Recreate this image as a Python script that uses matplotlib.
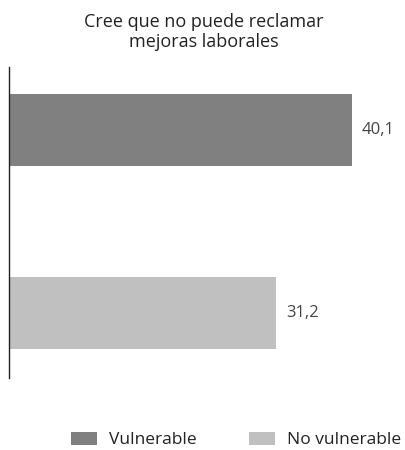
import matplotlib.pyplot as plt
from matplotlib.patches import Patch

plt.rcParams['font.family'] = ['Open Sans', 'DejaVu Sans']

# data
groups = ["Vulnerable", "No vulnerable"]
values = [40.1, 31.2]
labels = ["40,1", "31,2"]
colours = ["#808080", "#c0c0c0"]
title = "Cree que no puede reclamar\nmejoras laborales"

fig = plt.figure(figsize=(4.06, 4.50), dpi=100)
ax = fig.add_axes([9 / 406, 1 - 378 / 450, 397 / 406, 311 / 450])

pos = list(range(len(values)))
ax.barh(pos, values, height=0.393, color=colours)
for p, v, lab in zip(pos, values, labels):
  ax.text(v + 1.15, p, lab, va="center", ha="left", fontsize=12, color="#444444")

ax.set_xlim(0, 46.4)
ax.set_ylim(1.355, -0.344)
ax.set_xticks([])
ax.set_yticks([])
for s in ["top", "right", "bottom"]:
  ax.spines[s].set_visible(False)
ax.spines["left"].set_color("#222222")
ax.spines["left"].set_linewidth(1.0)

fig.text(0.502, 1 - 32 / 450, title, ha="center", va="center", fontsize=13,
         color="#222222", linespacing=1.15)

handles = [Patch(facecolor=c, edgecolor="none") for c in colours]
fig.legend(handles, groups, loc="center", ncol=2, frameon=False,
           bbox_to_anchor=(0.581, 1 - 440 / 450), fontsize=12.5,
           handlelength=1.5, handleheight=0.75, columnspacing=3.0,
           handletextpad=0.69, labelcolor="#222222")

fig.savefig("out.png", dpi=100)
